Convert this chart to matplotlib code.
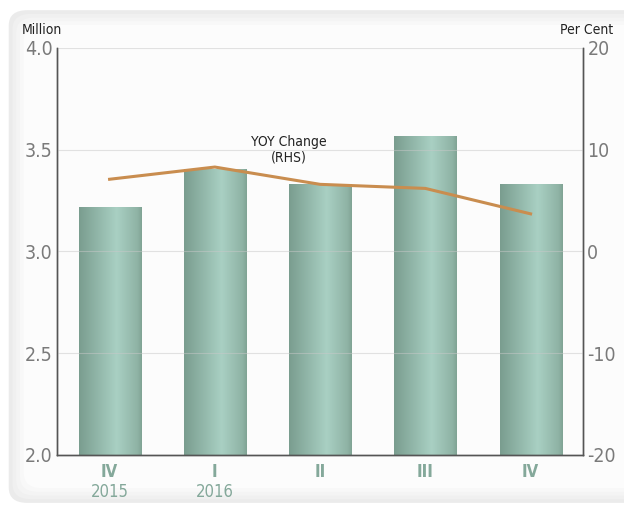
import numpy as np
import matplotlib.pyplot as plt
from matplotlib.patches import FancyBboxPatch
from matplotlib.colors import LinearSegmentedColormap

quarters = ['IV', 'I', 'II', 'III', 'IV']
years = ['2015', '2016', '', '', '']
visitors = [3.22, 3.405, 3.33, 3.57, 3.33]   # million (LHS)
yoy_change = [7.1, 8.3, 6.6, 6.2, 3.7]       # per cent (RHS)

plt.rcParams['font.family'] = ['DejaVu Sans']
plt.rcParams['font.stretch'] = 'condensed'
plt.rcParams['axes.unicode_minus'] = False

fig = plt.figure(figsize=(6.24, 5.09), dpi=100)
fig.patch.set_facecolor('white')

# soft rounded panel behind the chart
for i, c in enumerate(['#ebebeb', '#f0f0f0', '#f4f4f4', '#f8f8f8', '#fcfcfc']):
    pad = i * 0.006
    fig.patches.append(FancyBboxPatch((0.014 + pad, 0.012 + pad * 1.2),
                                      1.05 - 2 * pad, 0.968 - 2 * pad * 1.2,
                                      boxstyle='round,pad=0,rounding_size=0.03',
                                      transform=fig.transFigure, facecolor=c,
                                      edgecolor='none', zorder=-10))

ax = fig.add_axes([0.0913, 0.1061, 0.8433, 0.7996])
ax.set_facecolor('none')
ax2 = ax.twinx()

x = np.arange(len(quarters))
bars = ax.bar(x, visitors, width=0.59, bottom=0, color='#93b8aa',
              edgecolor='#e8f0ec', linewidth=0.6, zorder=2)

cmap = LinearSegmentedColormap.from_list(
    'g', [(0, '#7a9d8f'), (0.6, '#a9d0c3'), (0.93, '#8fb3a5'), (1, '#80a394')])
grad = np.linspace(0, 1, 256).reshape(1, -1)
for b in bars:
    im = ax.imshow(grad, cmap=cmap, aspect='auto', zorder=2.1,
                   extent=[b.get_x(), b.get_x() + b.get_width(), 2.0, b.get_height()])
    im.set_clip_path(b)

ax.set_xlim(-0.5, len(quarters) - 0.5)
ax.set_ylim(2.0, 4.0)
ax.set_yticks([2.0, 2.5, 3.0, 3.5, 4.0])
ax.set_yticklabels(['2.0', '2.5', '3.0', '3.5', '4.0'])
for yv in [2.5, 3.0, 3.5, 4.0]:
    ax.axhline(yv, color='#c8c8c8', lw=0.8, zorder=3, alpha=0.5)

ax2.plot(x, yoy_change, color='#c98d4f', lw=2.2, zorder=5)
ax2.set_ylim(-20, 20)
ax2.set_yticks([-20, -10, 0, 10, 20])

for a in (ax, ax2):
    a.tick_params(axis='y', length=0, labelsize=14, labelcolor='#7a7a7a', pad=3)
    a.spines['top'].set_visible(False)
    for s in ['left', 'right', 'bottom']:
        a.spines[s].set_color('#555555')
        a.spines[s].set_linewidth(1.0)

ax.set_xticks(x)
ax.set_xticklabels(quarters, fontsize=12, fontweight='bold', color='#84a89a')
ax.tick_params(axis='x', length=0, pad=6)
for xi, yr in zip(x, years):
    ax.text(xi, -0.09, yr, transform=ax.get_xaxis_transform(), ha='center',
            va='center', fontsize=12, color='#84a89a')

fig.text(0.035, 0.942, 'Million', fontsize=10, color='#222222', va='center')
fig.text(0.982, 0.942, 'Per Cent', fontsize=10, color='#222222', va='center', ha='right')

ax2.text(1.7, 10.0, 'YOY Change\n(RHS)', ha='center', va='center',
         fontsize=10, color='#222222', zorder=6, linespacing=1.1)

fig.savefig('out.png', dpi=100)
